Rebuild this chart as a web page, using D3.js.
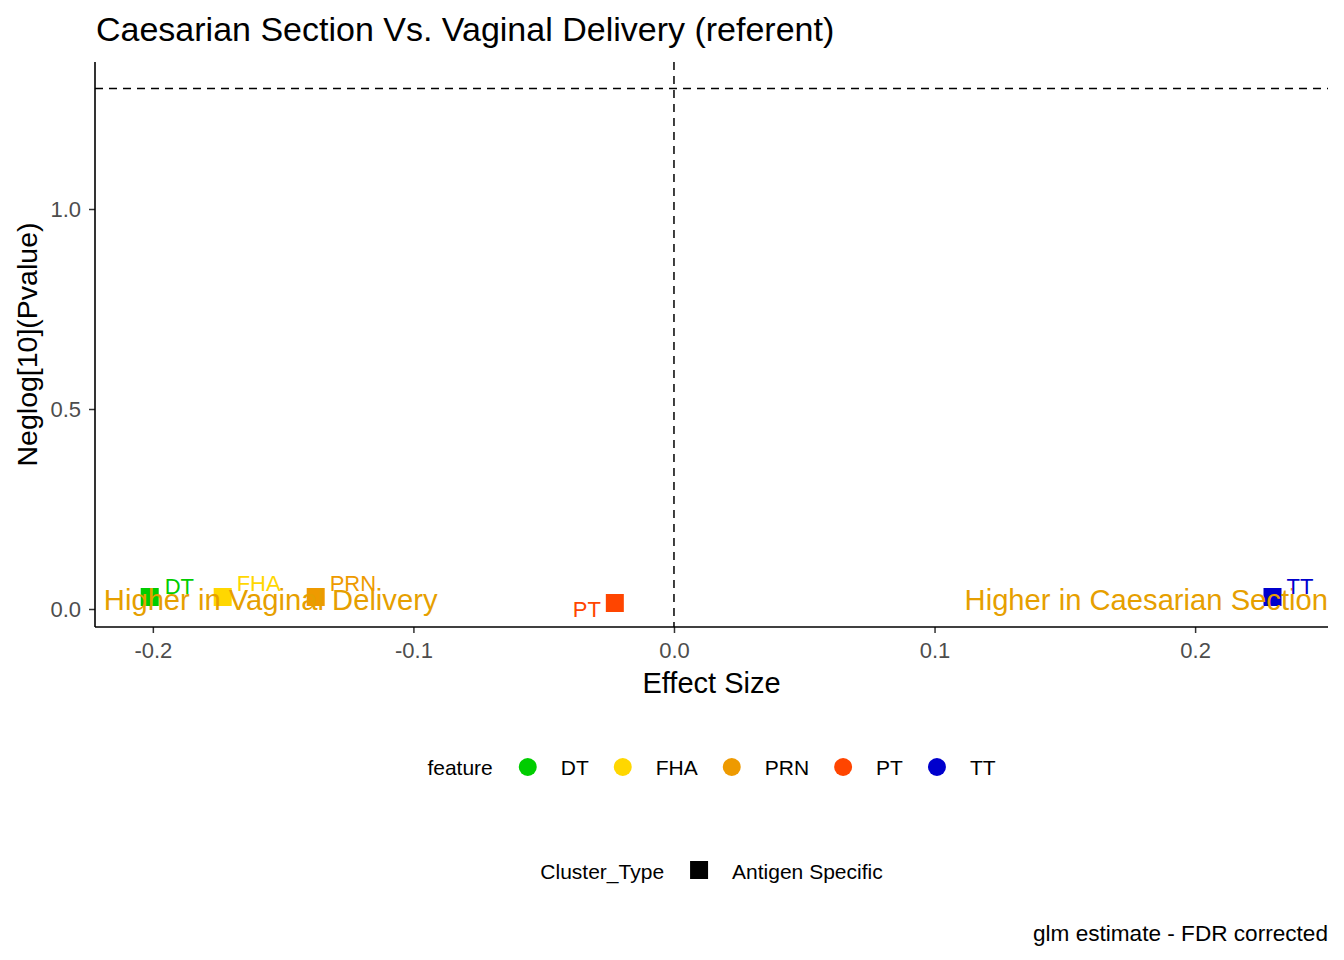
<!DOCTYPE html>
<html>
<head>
<meta charset="utf-8">
<script src="https://cdn.jsdelivr.net/npm/d3@7"></script>
<style>
  html, body { margin: 0; padding: 0; background: #fff; }
  text { font-family: "Liberation Sans", Arial, sans-serif; }
</style>
</head>
<body>
<svg id="chart" width="1344" height="960"></svg>
<script>
// ---- data ----
const features = ["DT", "FHA", "PRN", "PT", "TT"];
const effectSize = [-0.2012, -0.1732, -0.1375, -0.0227, 0.2297];
const neglogP = [0.030, 0.030, 0.030, 0.015, 0.030];
const featureColors = ["#00CD00", "#FFD700", "#EE9A00", "#FF4500", "#0000CD"];
const clusterTypes = ["Antigen Specific"];
const xTicks = [-0.2, -0.1, 0.0, 0.1, 0.2];
const yTicks = [0.0, 0.5, 1.0];
const xDomain = [-0.2222, 0.2510];
const yDomain = [-0.045, 1.3675];
const pThreshold = 0.05;
const annotations = ["Higher in Vaginal Delivery", "Higher in Caesarian Section"];
const annotationX = [-0.2188, 0.2510];
const titleText = "Caesarian Section Vs. Vaginal Delivery (referent)";
const captionText = "glm estimate - FDR corrected";

// label placement (repel-like offsets, px)
const labelAnchor = ["start", "start", "start", "end", "start"];
const labelDx = [15, 14, 14, -14, 14];
const labelDy = [-3, -6, -6, 14, -3];

// ---- layout ----
const svg = d3.select("#chart");
const panel = { left: 95, right: 1328, top: 62, bottom: 627 };
const x = d3.scaleLinear().domain(xDomain).range([panel.left, panel.right]);
const y = d3.scaleLinear().domain(yDomain).range([panel.bottom, panel.top]);
const color = d3.scaleOrdinal().domain(features).range(featureColors);
const fmt = d => d.toFixed(1);

// title
svg.append("text").attr("x", 96).attr("y", 41)
  .attr("font-size", 34).attr("fill", "#000").text(titleText);

// reference lines
svg.append("line")
  .attr("x1", panel.left).attr("x2", panel.right)
  .attr("y1", y(-Math.log10(pThreshold))).attr("y2", y(-Math.log10(pThreshold)))
  .attr("stroke", "#000").attr("stroke-width", 1.5).attr("stroke-dasharray", "8,6");
svg.append("line")
  .attr("x1", x(0)).attr("x2", x(0))
  .attr("y1", panel.top).attr("y2", panel.bottom)
  .attr("stroke", "#000").attr("stroke-width", 1.5).attr("stroke-dasharray", "8,6");

// axes
const xAxis = d3.axisBottom(x).tickValues(xTicks).tickFormat(fmt).tickSize(6).tickPadding(5);
const yAxis = d3.axisLeft(y).tickValues(yTicks).tickFormat(fmt).tickSize(6).tickPadding(8);

const gx = svg.append("g").attr("transform", `translate(0,${panel.bottom})`).call(xAxis);
const gy = svg.append("g").attr("transform", `translate(${panel.left},0)`).call(yAxis);
[gx, gy].forEach(g => {
  g.select(".domain").remove();
  g.selectAll(".tick line").attr("stroke", "#333").attr("stroke-width", 1.5);
  g.selectAll(".tick text").attr("fill", "#4D4D4D").attr("font-size", 22)
    .style("font-family", '"Liberation Sans", Arial, sans-serif');
});
gx.selectAll(".tick text").attr("dy", "0.9em");
svg.append("line").attr("x1", panel.left).attr("x2", panel.right)
  .attr("y1", panel.bottom).attr("y2", panel.bottom).attr("stroke", "#000").attr("stroke-width", 1.6);
svg.append("line").attr("x1", panel.left).attr("x2", panel.left)
  .attr("y1", panel.top).attr("y2", panel.bottom).attr("stroke", "#000").attr("stroke-width", 1.6);

// axis titles
svg.append("text").attr("x", (panel.left + panel.right) / 2).attr("y", 693)
  .attr("text-anchor", "middle").attr("font-size", 29).text("Effect Size");
svg.append("text").attr("transform", `translate(37,${(panel.top + panel.bottom) / 2}) rotate(-90)`)
  .attr("text-anchor", "middle").attr("font-size", 28.5).text("Neglog[10](Pvalue)");

// points
const rows = features.map((f, i) => ({ f, x: effectSize[i], y: neglogP[i], i }));
const sq = 18;
svg.append("g").selectAll("rect").data(rows).join("rect")
  .attr("x", d => x(d.x) - sq / 2).attr("y", d => y(d.y) - sq / 2)
  .attr("width", sq).attr("height", sq)
  .attr("fill", d => color(d.f));

// annotations
svg.append("g").selectAll("text").data(annotations).join("text")
  .attr("x", (d, i) => x(annotationX[i]))
  .attr("y", y(0) + 1)
  .attr("text-anchor", (d, i) => i === 0 ? "start" : "end")
  .attr("font-size", 29.2).attr("fill", "#E69F00").text(d => d);

// labels
svg.append("g").selectAll("text").data(rows).join("text")
  .attr("x", d => x(d.x) + labelDx[d.i])
  .attr("y", d => y(d.y) + labelDy[d.i])
  .attr("text-anchor", d => labelAnchor[d.i])
  .attr("font-size", 22).attr("fill", d => color(d.f)).text(d => d.f);

// legend rows
function legendRow(title, items, keyFn, cy) {
  const g = svg.append("g");
  let cx = 0;
  const t = g.append("text").attr("x", cx).attr("y", cy + 8).attr("font-size", 21).text(title);
  cx += t.node().getComputedTextLength() + 35;
  items.forEach((it, i) => {
    keyFn(g, cx, cy, i);
    cx += 33;
    const lt = g.append("text").attr("x", cx).attr("y", cy + 8).attr("font-size", 21).text(it);
    cx += lt.node().getComputedTextLength();
    if (i < items.length - 1) cx += 34;
  });
  const center = (panel.left + panel.right) / 2;
  g.attr("transform", `translate(${center - cx / 2},0)`);
}
legendRow("feature", features, (g, cx, cy, i) => {
  g.append("circle").attr("cx", cx).attr("cy", cy).attr("r", 9).attr("fill", featureColors[i]);
}, 767);
legendRow("Cluster_Type", clusterTypes, (g, cx, cy) => {
  g.append("rect").attr("x", cx - 9).attr("y", cy - 10).attr("width", 18).attr("height", 18).attr("fill", "#000");
}, 871);

// caption
svg.append("text").attr("x", 1328).attr("y", 941).attr("text-anchor", "end")
  .attr("font-size", 22.6).text(captionText);
</script>
</body>
</html>
